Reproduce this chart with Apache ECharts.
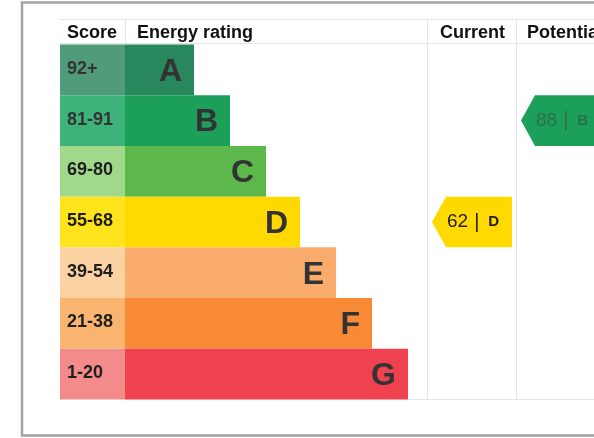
<!DOCTYPE html>
<html>
<head>
<meta charset="utf-8">
<script src="https://cdn.jsdelivr.net/npm/echarts@6/dist/echarts.min.js"></script>
<style>
  html, body { margin: 0; padding: 0; background: #fff; }
  #chart { width: 594px; height: 438px; }
</style>
</head>
<body>
<div id="chart"></div>
<script>
// Energy efficiency bands, best to worst
const bands = ['A', 'B', 'C', 'D', 'E', 'F', 'G'];
const scoreRanges = ['92+', '81-91', '69-80', '55-68', '39-54', '21-38', '1-20'];
const bandMin = [92, 81, 69, 55, 39, 21, 1];
// Length of each band's bar along the rating axis
const barLengths = [69, 105, 141, 175, 211, 247, 283];
// Ratings shown in the right-hand columns
const ratingColumns = ['Current', 'Potential'];
const ratingValues = [62, 88];

// Colours: bar fill and the paler score cell for each band
const barColors = ['#28875c', '#1b9f59', '#5cb84a', '#ffd900', '#f8ab6a', '#f88a36', '#f0414f'];
const scoreColors = ['#519b7a', '#3db37b', '#a1d98b', '#ffe31c', '#fbd2a2', '#f9b56f', '#f48b8b'];

const FONT = '"Liberation Sans", Arial, sans-serif';
const GRID_LEFT = 125, SCORE_W = 65;
const COL_X = { Current: 427, Potential: 516 };

function bandOf(score) {
  for (let i = 0; i < bandMin.length; i++) if (score >= bandMin[i]) return i;
  return bandMin.length - 1;
}

const chart = echarts.init(document.getElementById('chart'), null, { renderer: 'canvas' });

const bandData = bands.map((b, i) => [barLengths[i], i]);
const ratingData = ratingValues.map((v, i) => [v, bandOf(v), i]);

function renderBand(params, api) {
  const len = api.value(0), idx = api.value(1);
  const start = api.coord([0, idx]);
  const end = api.coord([len, idx]);
  const h = api.size([0, 1])[1];
  const top = start[1] - h / 2;
  return {
    type: 'group',
    children: [
      { type: 'rect', shape: { x: start[0] - SCORE_W, y: top, width: SCORE_W, height: h },
        style: { fill: scoreColors[idx] } },
      { type: 'rect', shape: { x: start[0], y: top, width: end[0] - start[0], height: h },
        style: { fill: barColors[idx] } },
      { type: 'text', x: start[0] - SCORE_W + 7, y: start[1] - 1,
        style: { text: scoreRanges[idx], font: 'bold 18px ' + FONT, fill: idx < 2 ? '#333' : '#1e1e1e',
                 textAlign: 'left', textVerticalAlign: 'middle' } },
      { type: 'text', x: end[0] - 12, y: start[1] + 2,
        style: { text: bands[idx], font: 'bold 32px ' + FONT, fill: '#333',
                 textAlign: 'right', textVerticalAlign: 'middle' } }
    ]
  };
}

function renderRating(params, api) {
  const value = api.value(0), idx = api.value(1), col = api.value(2);
  const c = api.coord([0, idx]);
  const h = api.size([0, 1])[1];
  const top = c[1] - h / 2, bot = c[1] + h / 2;
  const x0 = COL_X[ratingColumns[col]];
  const tip = x0 + 5, flat = x0 + 19, right = x0 + 85;
  const isPot = col === 1;
  const txt = isPot ? '#2c7048' : '#1e1e1e';
  return {
    type: 'group',
    children: [
      { type: 'polygon', shape: { points: [[tip, c[1]], [flat, top], [right, top], [right, bot], [flat, bot]] },
        style: { fill: barColors[idx] } },
      { type: 'text', x: flat + 1, y: c[1],
        style: { rich: {
                   n: { font: '19px ' + FONT, fill: txt },
                   s: { font: '20px ' + FONT, fill: txt, padding: [0, 9, 0, 6] },
                   b: { font: 'bold 15px ' + FONT, fill: txt }
                 },
                 text: '{n|' + value + '}{s||}{b|' + bands[idx] + '}',
                 textAlign: 'left', textVerticalAlign: 'middle' } }
    ]
  };
}

const lineStyle = { stroke: '#e4e4e8', lineWidth: 1 };
const headFont = 'bold 18px ' + FONT;

chart.setOption({
  animation: false,
  backgroundColor: '#fff',
  grid: { left: GRID_LEFT, top: 44.5, right: 0, bottom: 38.5 },
  xAxis: { type: 'value', min: 0, max: 469, show: false },
  yAxis: { type: 'category', data: bands, inverse: true, show: false },
  graphic: [
    // outer frame
    { type: 'rect', shape: { x: 22, y: 2.5, width: 600, height: 433 },
      style: { fill: 'none', stroke: '#a2a2a2', lineWidth: 2.5 }, z: 10 },
    // table rules
    { type: 'line', shape: { x1: 60, y1: 19.5, x2: 594, y2: 19.5 }, style: lineStyle },
    { type: 'line', shape: { x1: 60, y1: 43.5, x2: 594, y2: 43.5 }, style: lineStyle },
    { type: 'line', shape: { x1: 408, y1: 399.5, x2: 594, y2: 399.5 }, style: lineStyle },
    { type: 'line', shape: { x1: 125.5, y1: 19, x2: 125.5, y2: 44 }, style: lineStyle },
    { type: 'line', shape: { x1: 427.5, y1: 19, x2: 427.5, y2: 399 }, style: lineStyle },
    { type: 'line', shape: { x1: 516.5, y1: 19, x2: 516.5, y2: 399 }, style: lineStyle },
    // column headings
    { type: 'text', x: 67, y: 33, style: { text: 'Score', font: headFont, fill: '#111', textVerticalAlign: 'middle' } },
    { type: 'text', x: 137, y: 33, style: { text: 'Energy rating', font: headFont, fill: '#111', textVerticalAlign: 'middle' } },
    { type: 'text', x: 440, y: 33, style: { text: 'Current', font: headFont, fill: '#111', textVerticalAlign: 'middle' } },
    { type: 'text', x: 527, y: 33, style: { text: 'Potential', font: headFont, fill: '#111', textVerticalAlign: 'middle' } }
  ],
  series: [
    { type: 'custom', name: 'bands', data: bandData, renderItem: renderBand, clip: false,
      encode: { x: 0, y: 1 } },
    { type: 'custom', name: 'ratings', data: ratingData, renderItem: renderRating, clip: false,
      encode: { x: 0, y: 1 } }
  ]
});
</script>
</body>
</html>
